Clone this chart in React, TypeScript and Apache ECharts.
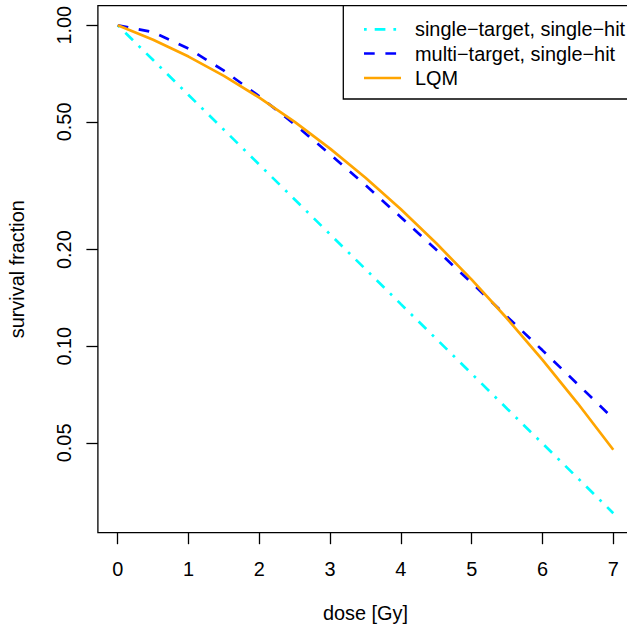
import React, { useEffect, useRef } from "react";
import * as echarts from "echarts";

const doses = [0, 0.5, 1, 1.5, 2, 2.5, 3, 3.5, 4, 4.5, 5, 5.5, 6, 6.5, 7];
const singleTarget = [1, 0.7788, 0.6065, 0.4724, 0.3679, 0.2865, 0.2231, 0.1738, 0.1353, 0.1054, 0.0821, 0.0639, 0.0498, 0.0388, 0.0302];
const multiTarget = [1, 0.9511, 0.8452, 0.7216, 0.6004, 0.4909, 0.3964, 0.3174, 0.2523, 0.1997, 0.1575, 0.1237, 0.0971, 0.0761, 0.0595];
const lqm = [1, 0.9015, 0.7985, 0.6951, 0.5945, 0.4997, 0.4127, 0.335, 0.2671, 0.2093, 0.1612, 0.122, 0.0907, 0.0663, 0.0476];

const xTicks = [0, 1, 2, 3, 4, 5, 6, 7];
const yTicks = [0.05, 0.1, 0.2, 0.5, 1];
const yTickLabels = ["0.05", "0.10", "0.20", "0.50", "1.00"];

const seriesNames = ["single\u2212target, single\u2212hit", "multi\u2212target, single\u2212hit", "LQM"];
const seriesColors = ["#00FFFF", "#0000FF", "#FFA500"];

const FONT = "'Liberation Sans', Arial, Helvetica, sans-serif";
const FS = 19.9;
const CW = 640;

export default function App() {
  const ref = useRef<HTMLDivElement>(null);
  useEffect(() => {
    if (!ref.current) return;
    const chart = echarts.init(ref.current, null, { renderer: "svg" });
    const all = [...singleTarget, ...multiTarget, ...lqm].map((v) => Math.log10(v));
    const lo = Math.min(...all);
    const hi = Math.max(...all);
    const ext = (hi - lo) * 0.04;
    const xlo = Math.min(...doses);
    const xhi = Math.max(...doses);
    const xext = (xhi - xlo) * 0.04;
    const toData = (ys: number[]) => doses.map((d, i) => [d, Math.log10(ys[i])]);
    const dashes = [
      [2.7, 8, 10.7, 8],
      [10.7, 10.7],
      null,
    ];
    const seriesData = [singleTarget, multiTarget, lqm];
    const legendY = [29.3, 53.5, 78];

    const option: any = {
      animation: false,
      grid: {
        show: true,
        left: 97.9,
        right: CW - 633.1,
        top: 5.7,
        bottom: 94.3,
        outerBoundsMode: "none",
        containLabel: false,
        borderColor: "#000",
        borderWidth: 1.3,
        backgroundColor: "transparent",
      },
      xAxis: {
        type: "value",
        min: xlo - xext,
        max: xhi + xext,
        name: "dose [Gy]",
        nameLocation: "middle",
        nameGap: 70,
        nameTextStyle: { fontFamily: FONT, fontSize: FS, color: "#000" },
        axisLine: { show: false, onZero: false },
        splitLine: { show: false },
        axisTick: {
          show: true,
          length: 11.5,
          customValues: xTicks,
          lineStyle: { color: "#000", width: 1.3 },
        },
        axisLabel: {
          customValues: xTicks,
          margin: 26.5,
          fontFamily: FONT,
          fontSize: FS,
          color: "#000",
          formatter: (v: number) => String(Math.round(v)),
        },
      },
      yAxis: {
        type: "value",
        min: lo - ext,
        max: hi + ext,
        name: "survival fraction",
        nameLocation: "middle",
        nameGap: 70.8,
        nameRotate: 90,
        nameTextStyle: { fontFamily: FONT, fontSize: FS, color: "#000" },
        axisLine: { show: false, onZero: false },
        splitLine: { show: false },
        axisTick: {
          show: true,
          length: 11.5,
          customValues: yTicks.map((v) => Math.log10(v)),
          lineStyle: { color: "#000", width: 1.3 },
        },
        axisLabel: {
          customValues: yTicks.map((v) => Math.log10(v)),
          rotate: 90,
          margin: 24.4,
          fontFamily: FONT,
          fontSize: FS,
          color: "#000",
          formatter: (v: number) => {
            for (let i = 0; i < yTicks.length; i++) {
              if (Math.abs(Math.log10(yTicks[i]) - v) < 1e-6) return yTickLabels[i];
            }
            return "";
          },
        },
      },
      series: seriesData.map((ys, i) => ({
        type: "line",
        name: seriesNames[i],
        data: toData(ys),
        showSymbol: false,
        symbol: "none",
        lineStyle: {
          color: seriesColors[i],
          width: 2.7,
          type: dashes[i] ? dashes[i] : "solid",
          cap: "butt",
        },
        z: 2 + i,
      })),
      graphic: [
        {
          type: "rect",
          shape: { x: 343.3, y: 5.7, width: 290, height: 93.3 },
          style: { fill: "#fff", stroke: "#000", lineWidth: 1.3 },
          z: 10,
        },
        ...seriesNames.flatMap((name, i) => [
          {
            type: "line",
            shape: { x1: 364, y1: legendY[i], x2: 401, y2: legendY[i] },
            style: {
              stroke: seriesColors[i],
              lineWidth: 2.7,
              lineDash: dashes[i] ? dashes[i] : null,
              lineCap: "butt",
            },
            z: 11,
          },
          {
            type: "text",
            x: 415,
            y: legendY[i],
            style: {
              text: name,
              fontFamily: FONT,
              fontSize: FS,
              fill: "#000",
              verticalAlign: "middle",
              align: "left",
            },
            z: 11,
          },
        ]),
      ],
    };
    chart.setOption(option);
    return () => chart.dispose();
  }, []);
  return (
    <div style={{ position: "fixed", left: 0, top: 0, width: 627, height: 627, overflow: "hidden", background: "#fff" }}>
      <div ref={ref} style={{ width: CW, height: 627 }} />
    </div>
  );
}
